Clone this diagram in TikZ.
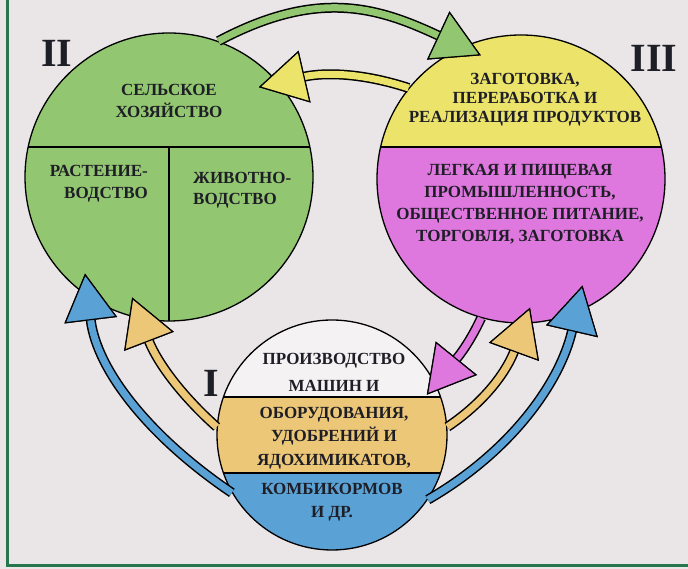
\documentclass[tikz,border=0pt]{standalone}
\usepackage{fontspec}
\setmainfont{Liberation Serif}
\usetikzlibrary{arrows.meta}
\definecolor{paper}{RGB}{234,229,231}
\definecolor{frame}{RGB}{40,118,78}
\definecolor{agri}{RGB}{146,198,112}
\definecolor{proc}{RGB}{236,228,106}
\definecolor{ind}{RGB}{222,119,222}
\definecolor{mach}{RGB}{237,199,120}
\definecolor{feed}{RGB}{90,162,214}
\definecolor{blank}{RGB}{245,242,243}
\definecolor{ink}{RGB}{30,30,38}

\tikzset{
  disc/.style={circle, draw=black, line width=1.3pt, inner sep=0pt},
  lbl/.style={font=\bfseries\fontsize{17}{#1}\selectfont, align=center, text=ink, inner sep=0pt},
  lbl/.default=21,
  num/.style={font=\bfseries\fontsize{40}{40}\selectfont, text=ink},
  flow/.style={line width=7pt, draw=#1, preaction={draw=black, line width=10pt},
    -{Triangle[length=47pt, width=53pt, fill=#1, color=black, line width=1.2pt]}}
}

\begin{document}
\begin{tikzpicture}[x=1pt, y=1pt]
\useasboundingbox (0,0) rectangle (688,569);
\fill[paper] (0,0) rectangle (688,569);
\draw[frame, line width=3pt] (7,569) -- (7,3) -- (688,3);

% three sectors
\node[disc, fill=agri, minimum size=288pt, path picture={
    \draw[line width=1.3pt] ([yshift=30pt]path picture bounding box.west) -- ([yshift=30pt]path picture bounding box.east);
    \draw[line width=1.3pt] ([yshift=30pt]path picture bounding box.center) -- (path picture bounding box.south);}] (II) at (169,392) {};
\node[disc, fill=ind, minimum size=288pt, path picture={
    \fill[proc] ([yshift=32pt]path picture bounding box.west) rectangle (path picture bounding box.north east);
    \draw[line width=1.3pt] ([yshift=32pt]path picture bounding box.west) -- ([yshift=32pt]path picture bounding box.east);}] (III) at (521,390) {};
\node[disc, fill=blank, minimum size=230pt, path picture={
    \fill[mach] ([yshift=-38pt]path picture bounding box.west) rectangle ([yshift=38pt]path picture bounding box.east);
    \fill[feed] (path picture bounding box.south west) rectangle ([yshift=-38pt]path picture bounding box.east);
    \draw[line width=1.3pt] ([yshift=38pt]path picture bounding box.west) -- ([yshift=38pt]path picture bounding box.east);
    \draw[line width=1.3pt] ([yshift=-38pt]path picture bounding box.west) -- ([yshift=-38pt]path picture bounding box.east);}] (I) at (332,134) {};

% links
\draw[flow=agri] (II.70) to[out=28, in=155, looseness=1.1] ([shift={(108:130pt)}]III.center);
\draw[flow=proc] (III.141) to[out=162, in=13] ([shift={(45:127pt)}]II.center);
\draw[flow=feed] (I.210) to[out=146, in=-83, looseness=0.95] ([shift={(229:128pt)}]II.center);
\draw[flow=mach] (I.176) to[out=138, in=-69] ([shift={(253:126pt)}]II.center);
\draw[flow=ind] (III.254) to[out=245, in=51] ([shift={(23:103pt)}]I.center);
\draw[flow=mach] (I.4) to[out=34, in=250] ([shift={(274:129pt)}]III.center);
\draw[flow=feed] (I.-34) to[out=30, in=257, looseness=0.95] ([shift={(300:123pt)}]III.center);

% texts
\node[lbl=22] (agritxt) at (169,468) {СЕЛЬСКОЕ\\ХОЗЯЙСТВО};
\node[lbl=22, align=right, anchor=east] (crop) at (148,385) {РАСТЕНИЕ-\\ВОДСТВО};
\node[lbl=21, align=left, anchor=west] (stock) at (193,379) {ЖИВОТНО-\\ВОДСТВО};
\node[lbl=19] (proctxt) at (525,469) {ЗАГОТОВКА,\\ПЕРЕРАБОТКА И\\РЕАЛИЗАЦИЯ ПРОДУКТОВ};
\node[lbl=22] (indtxt) at (520,365) {ЛЕГКАЯ И ПИЩЕВАЯ\\ПРОМЫШЛЕННОСТЬ,\\ОБЩЕСТВЕННОЕ ПИТАНИЕ,\\ТОРГОВЛЯ, ЗАГОТОВКА};
\node[lbl=27] (machtxt) at (334,197) {ПРОИЗВОДСТВО\\МАШИН И};
\node[lbl=23.5] (chemtxt) at (334,131) {ОБОРУДОВАНИЯ,\\УДОБРЕНИЙ И\\ЯДОХИМИКАТОВ,};
\node[lbl=23] (feedtxt) at (332,67) {КОМБИКОРМОВ\\И ДР.};

\node[num] (nII) at (57,516) {II};
\node[num] (nIII) at (654,511) {III};
\node[num] (nI) at (211,186) {I};
\end{tikzpicture}
\end{document}
